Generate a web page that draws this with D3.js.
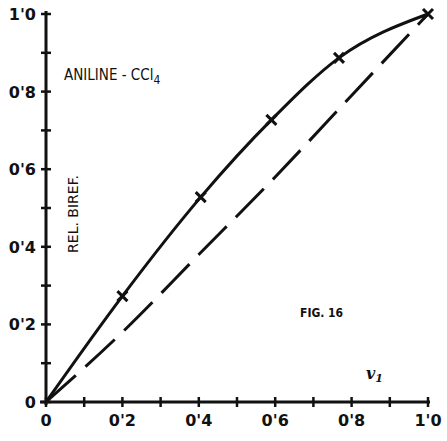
<!DOCTYPE html>
<html>
<head>
<meta charset="utf-8">
<script src="https://cdn.jsdelivr.net/npm/d3@7"></script>
<style>
  body { margin: 0; background: #fff; }
  svg { display: block; }
  text { fill: #111; }
</style>
</head>
<body>
<svg width="447" height="441"></svg>
<script>
// measured points (volume fraction vs relative birefringence)
var fracs = [0, 0.2, 0.405, 0.59, 0.767, 1.0]
var biref = [0, 0.273, 0.528, 0.727, 0.887, 1.0]

// ideal (additive) curve, drawn dashed
var idealX = [0, 0.2, 0.4, 0.6, 0.8, 1.0]
var idealY = [0, 0.18, 0.38, 0.58, 0.79, 1.0]

var tickVals = [0, 0.2, 0.4, 0.6, 0.8, 1.0]
var tickLabels = ["0", "0'2", "0'4", "0'6", "0'8", "1'0"]
var minorTicks = [0.1, 0.3, 0.5, 0.7, 0.9]

var svg = d3.select('svg'),
	x = d3.scaleLinear().domain([0, 1]).range([46, 428]),
	y = d3.scaleLinear().domain([0, 1]).range([402, 14]),
	ink = '#111'

function draw_axis(g, horiz) {
	var all = tickVals.concat(minorTicks)

	g.selectAll('path.tk').data(all).enter().append('path')
		.attr('class', 'tk')
		.attr('fill', 'none')
		.attr('stroke', ink).attr('stroke-width', 2.5)
		.attr('d', function(d) {
			return horiz
				? 'M' + x(d) + ',' + (y(0) - 5) + 'V' + (y(0) + 5)
				: 'M' + (x(0) - 5) + ',' + y(d) + 'H' + (x(0) + 5)
		})

	g.append('path')
		.attr('fill', 'none')
		.attr('stroke', ink).attr('stroke-width', 3)
		.attr('d', horiz
			? 'M40,' + y(0) + 'H430'
			: 'M' + x(0) + ',' + (y(0) + 3) + 'V' + (y(1) - 3))

	g.selectAll('text').data(tickVals).enter().append('text')
		.attr('font-family', 'DejaVu Sans')
		.attr('font-weight', 'bold')
		.attr('font-size', 16)
		.attr('text-anchor', horiz ? 'middle' : 'end')
		.attr('x', function(d) { return horiz ? x(d) : 36 })
		.attr('y', function(d) { return horiz ? y(0) + 24 : y(d) + 6 })
		.text(function(d, i) { return tickLabels[i] })
}

draw_axis(svg.append('g'), true)
draw_axis(svg.append('g'), false)

var curve = d3.line()
	.x(function(d) { return x(d[0]) })
	.y(function(d) { return y(d[1]) })
	.curve(d3.curveMonotoneX)

svg.append('path')
	.attr('d', curve(d3.zip(idealX, idealY)))
	.attr('fill', 'none').attr('stroke', ink).attr('stroke-width', 3)
	.attr('stroke-dasharray', '40 13')

svg.append('path')
	.attr('d', curve(d3.zip(fracs, biref)))
	.attr('fill', 'none').attr('stroke', ink).attr('stroke-width', 3)

// cross markers
var pts = d3.zip(fracs, biref).slice(1)
svg.selectAll('path.mk').data(pts).enter().append('path')
	.attr('class', 'mk')
	.attr('fill', 'none').attr('stroke', ink).attr('stroke-width', 3)
	.attr('d', function(d) {
		var cx = x(d[0]), cy = y(d[1]), r = 5
		return 'M' + (cx - r) + ',' + (cy - r) + 'L' + (cx + r) + ',' + (cy + r) +
			'M' + (cx - r) + ',' + (cy + r) + 'L' + (cx + r) + ',' + (cy - r)
	})

var t = svg.append('text')
	.attr('x', 64).attr('y', 80)
	.attr('font-family', 'DejaVu Sans Condensed')
	.attr('font-size', 15)
	.text('ANILINE - CCl')
t.append('tspan').attr('dy', 4).attr('font-size', 12).text('4')

svg.append('text')
	.attr('transform', 'translate(78,214) rotate(-90)')
	.attr('text-anchor', 'middle')
	.attr('font-family', 'DejaVu Sans')
	.attr('font-size', 14)
	.text('REL. BIREF.')

svg.append('text')
	.attr('x', 300).attr('y', 317)
	.attr('font-family', 'DejaVu Sans Condensed')
	.attr('font-weight', 'bold')
	.attr('font-size', 12)
	.text('FIG. 16')

var v = svg.append('text')
	.attr('x', 366).attr('y', 379)
	.attr('font-family', 'DejaVu Serif')
	.attr('font-style', 'italic')
	.attr('font-weight', 'bold')
	.attr('font-size', 16)
	.text('v')
v.append('tspan').attr('dy', 3).attr('font-size', 11).text('1')
</script>
</body>
</html>
